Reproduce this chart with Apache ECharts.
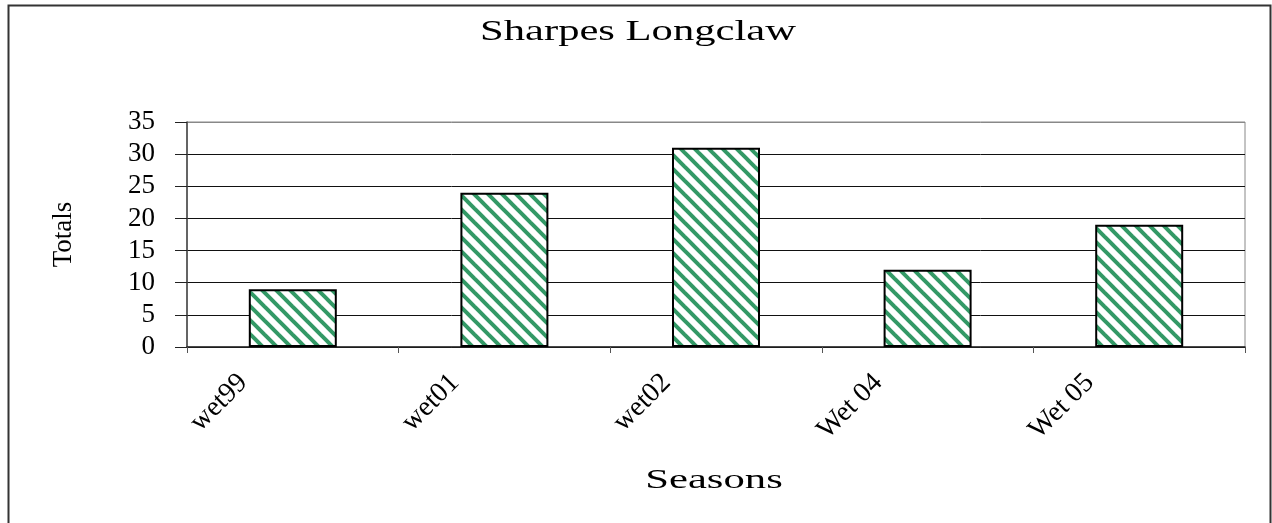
<!DOCTYPE html>
<html>
<head>
<meta charset="utf-8">
<script src="https://cdn.jsdelivr.net/npm/echarts@6/dist/echarts.min.js"></script>
<style>
html,body{margin:0;padding:0;background:#fff;}
#chart{width:1272px;height:523px;}
</style>
</head>
<body>
<div id="chart"></div>
<script>
const categories = ['wet99', 'wet01', 'wet02', 'Wet 04', 'Wet 05'];
const totals = [9, 24, 31, 12, 19];
const yTicks = [0, 5, 10, 15, 20, 25, 30, 35];
const titleText = 'Sharpes Longclaw';
const xName = 'Seasons';
const yName = 'Totals';

function makePattern() {
  const s = 14;
  const c = document.createElement('canvas');
  c.width = s; c.height = s;
  const ctx = c.getContext('2d');
  ctx.fillStyle = '#ffffff';
  ctx.fillRect(0, 0, s, s);
  ctx.strokeStyle = '#339966';
  ctx.lineWidth = 4;
  for (let k = -1; k <= 1; k++) {
    ctx.beginPath();
    ctx.moveTo(k * s - 2, -2);
    ctx.lineTo(k * s + s + 2, s + 2);
    ctx.stroke();
  }
  return c;
}

const chart = echarts.init(document.getElementById('chart'), null, {renderer: 'canvas'});
const serif = '"Liberation Serif", "Times New Roman", serif';

chart.setOption({
  backgroundColor: '#ffffff',
  animation: false,
  grid: {left: 187, right: 27, top: 122, bottom: 176, show: true, borderColor: '#888888', borderWidth: 1},
  xAxis: {
    type: 'category',
    data: categories,
    boundaryGap: true,
    axisLine: {lineStyle: {color: '#222222', width: 1.5}},
    axisTick: {show: true, alignWithLabel: false, length: 6, lineStyle: {color: '#555555'}},
    axisLabel: {
      interval: 0, rotate: 45, margin: -18, hideOverlap: false,
      fontFamily: serif, fontSize: 28, color: '#000000',
      padding: [0, 70, 0, 0]
    },
    splitLine: {show: false}
  },
  yAxis: {
    type: 'value',
    min: yTicks[0], max: yTicks[yTicks.length - 1], interval: 5,
    name: yName,
    nameLocation: 'middle',
    nameGap: 110,
    nameRotate: 90,
    nameTextStyle: {fontFamily: serif, fontSize: 27, color: '#000000'},
    axisLine: {show: true, lineStyle: {color: '#444444', width: 1.5}},
    axisTick: {show: true, length: 12, lineStyle: {color: '#222222'}},
    axisLabel: {margin: 32, fontFamily: serif, fontSize: 27, color: '#000000'},
    splitLine: {show: true, lineStyle: {color: ['#111111','#111111','#111111','#111111','#111111','#111111','#111111','#888888'], width: 1}}
  },
  series: [{
    type: 'bar',
    data: totals,
    barWidth: 88,
    itemStyle: {
      color: {image: makePattern(), repeat: 'repeat'},
      borderColor: '#000000',
      borderWidth: 2
    }
  }],
  graphic: [
    {type: 'rect', shape: {x: 8.5, y: 5.5, width: 1262, height: 540}, style: {fill: 'none', stroke: '#333333', lineWidth: 2}, silent: true, z: 100},
    {type: 'text', x: 638, y: 32, scaleX: 1.42, originX: 0, originY: 0,
      style: {text: titleText, font: '30px ' + serif, fill: '#000000', align: 'center', verticalAlign: 'middle'}},
    {type: 'text', x: 714, y: 481, scaleX: 1.58, originX: 0, originY: 0,
      style: {text: xName, font: '27px ' + serif, fill: '#000000', align: 'center', verticalAlign: 'middle'}}
  ]
});
</script>
</body>
</html>
